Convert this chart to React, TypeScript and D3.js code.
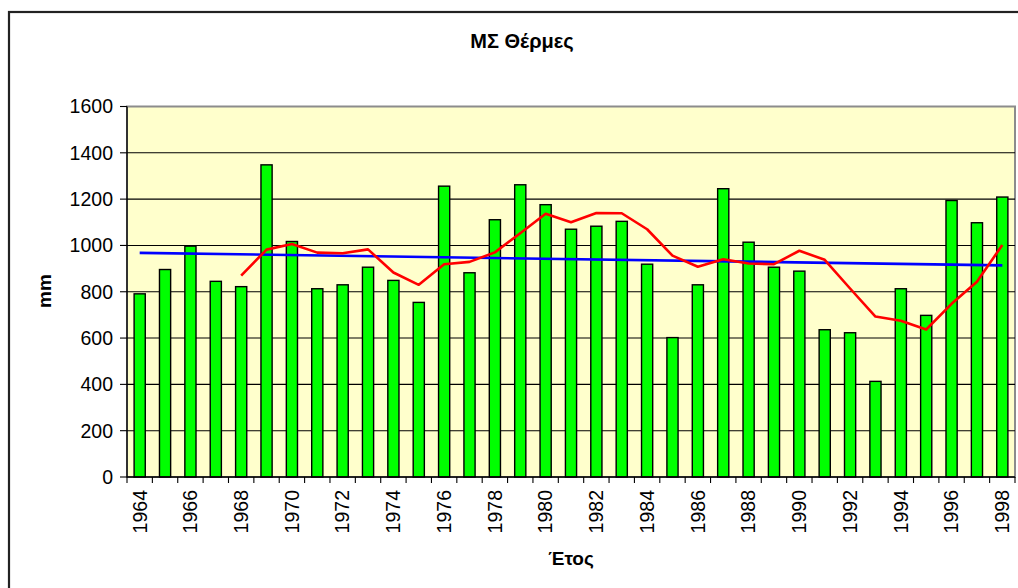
import React from "react";
import * as d3 from "d3";

const years: number[] = d3.range(1964, 1999);
const rainfall: number[] = [
  791, 896, 997, 845, 822, 1348, 1017, 813, 830, 906, 849, 754, 1256, 882, 1111,
  1262, 1176, 1070, 1083, 1104, 919, 602, 830, 1245, 1014, 906, 889, 636, 623,
  413, 813, 698, 1194, 1098, 1209,
];
// 5-year moving average (red), 1968..1998
const movingAvgYears: number[] = d3.range(1968, 1999);
const movingAvg: number[] = [
  870, 982, 1006, 969, 966, 983, 883, 830, 919, 929, 970, 1053, 1137, 1100, 1140,
  1139, 1070, 956, 908, 940, 922, 919, 977, 938, 814, 693, 675, 637, 748, 843, 1002,
];
// linear trend (blue), endpoints
const trendYears: number[] = [1964, 1998];
const trendValues: number[] = [968, 914];
const yTicks: number[] = [0, 200, 400, 600, 800, 1000, 1200, 1400, 1600];
const xLabelYears: number[] = years.filter((y) => (y - 1964) % 2 === 0);

const title = "ΜΣ Θέρμες";
const xTitle = "Έτος";
const yTitle = "mm";

export default function App() {
  const W = 1018;
  const H = 588;
  const left = 127;
  const right = 1015;
  const top = 106.5;
  const bottom = 477;
  const font = "'Liberation Sans', Arial, sans-serif";

  const x = d3
    .scaleBand<number>()
    .domain(years)
    .range([left, right])
    .paddingInner(0.56)
    .paddingOuter(0.28);
  const step = x.step();
  const cx = (yr: number) => (x(yr) as number) + x.bandwidth() / 2;
  const y = d3.scaleLinear().domain([0, 1600]).range([bottom, top]);

  const maLine = d3
    .line<number>()
    .x((_, i) => cx(movingAvgYears[i]))
    .y((d) => y(d));
  const trendLine = d3
    .line<number>()
    .x((_, i) => cx(trendYears[i]))
    .y((d) => y(d));

  const boundaries = d3.range(years.length + 1).map((i) => left + i * step);

  return (
    <svg
      width={W}
      height={H}
      style={{ position: "absolute", left: 0, top: 0, background: "#fff" }}
      fontFamily={font}
    >
      <rect x={0} y={0} width={W} height={H} fill="#fff" />
      {/* outer frame */}
      <rect x={9} y={12} width={W + 20} height={H + 20} fill="none" stroke="#222" strokeWidth={2.2} />
      {/* title */}
      <text x={522} y={48} textAnchor="middle" fontSize={20} fontWeight="bold" fill="#000">
        {title}
      </text>
      {/* plot area */}
      <rect x={left} y={top} width={right - left} height={bottom - top} fill="#FFFFCC" stroke="#8c8c8c" strokeWidth={2} />
      {/* gridlines */}
      {yTicks
        .filter((t) => t > 0 && t < 1600)
        .map((t) => (
          <line key={"g" + t} x1={left} x2={right} y1={y(t)} y2={y(t)} stroke="#000" strokeWidth={1.1} />
        ))}
      {/* bars */}
      {years.map((yr, i) => (
        <rect
          key={yr}
          x={x(yr)}
          y={y(rainfall[i])}
          width={x.bandwidth()}
          height={bottom - y(rainfall[i])}
          fill="#00FF00"
          stroke="#000"
          strokeWidth={1.4}
        />
      ))}
      {/* trend lines */}
      <path d={trendLine(trendValues) || ""} fill="none" stroke="#0000FF" strokeWidth={2.6} />
      <path d={maLine(movingAvg) || ""} fill="none" stroke="#FF0000" strokeWidth={2.6} strokeLinejoin="round" />
      {/* axes */}
      <line x1={left} x2={left} y1={top} y2={bottom} stroke="#000" strokeWidth={1.3} />
      <line x1={left} x2={right} y1={bottom} y2={bottom} stroke="#000" strokeWidth={1.3} />
      {yTicks.map((t) => (
        <g key={"yt" + t}>
          <line x1={left - 7} x2={left} y1={y(t)} y2={y(t)} stroke="#000" strokeWidth={1.1} />
          <text x={113} y={y(t)} dy="0.35em" textAnchor="end" fontSize={19.5} fill="#000">
            {t}
          </text>
        </g>
      ))}
      {boundaries.map((bx, i) => (
        <line key={"xt" + i} x1={bx} x2={bx} y1={bottom} y2={bottom + 6} stroke="#000" strokeWidth={1.1} />
      ))}
      {xLabelYears.map((yr) => (
        <text
          key={"xl" + yr}
          transform={`translate(${cx(yr)},${490}) rotate(-90)`}
          dy="0.35em"
          textAnchor="end"
          fontSize={19.5}
          fill="#000"
        >
          {yr}
        </text>
      ))}
      <text x={571} y={565} textAnchor="middle" fontSize={19} fontWeight="bold" fill="#000">
        {xTitle}
      </text>
      <text transform={`translate(51,291) rotate(-90)`} textAnchor="middle" fontSize={19} fontWeight="bold" fill="#000">
        {yTitle}
      </text>
    </svg>
  );
}
